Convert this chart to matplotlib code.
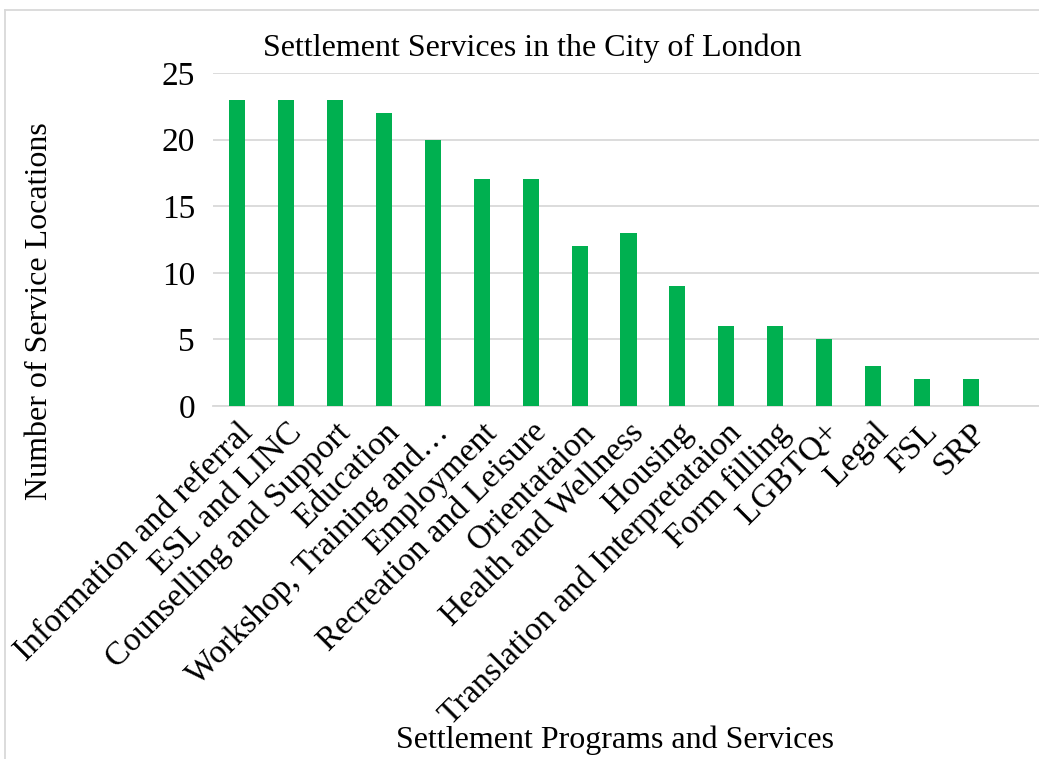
import matplotlib
matplotlib.use("Agg")
import matplotlib.pyplot as plt
from matplotlib.lines import Line2D

plt.rcParams['font.family'] = ['Liberation Serif', 'DejaVu Serif']

# datos
servicios = ["Information and referral", "ESL and LINC", "Counselling and Support",
             "Education", "Workshop, Training and\u2026", "Employment",
             "Recreation and Leisure", "Orientataion", "Health and Wellness",
             "Housing", "Translation and Interpretataion", "Form filling",
             "LGBTQ+", "Legal", "FSL", "SRP"]
ubicaciones = [23, 23, 23, 22, 20, 17, 17, 12, 13, 9, 6, 6, 5, 3, 2, 2]
marcas_y = [0, 5, 10, 15, 20, 25]

fig = plt.figure(figsize=(10.39, 7.59), dpi=100)
ax = fig.add_axes([0.205, 0.465, 0.795, 0.439])

x = list(range(len(servicios)))
ax.bar(x, ubicaciones, width=0.33, color="#00B050", zorder=3)

ax.set_ylim(0, 25)
ax.set_xlim(-0.5, 16.4)
ax.set_yticks(marcas_y)
ax.set_yticklabels([str(v) for v in marcas_y], fontsize=24)
ax.set_xticks(x)
ax.set_xticklabels(servicios, fontsize=24, rotation=45, ha='right',
                   va='top', rotation_mode='anchor')
ax.tick_params(axis='both', length=0)
ax.tick_params(axis='y', pad=13)
ax.tick_params(axis='x', pad=8)
ax.yaxis.grid(True, color="#D9D9D9", linewidth=1.3, zorder=0)
for lado in ['top', 'right', 'left']:
    ax.spines[lado].set_visible(False)
ax.spines['bottom'].set_color("#D9D9D9")
ax.spines['bottom'].set_linewidth(1.3)

fig.text(0.512, 0.937, "Settlement Services in the City of London",
         fontsize=23, ha='center', va='center')
fig.text(0.592, 0.025, "Settlement Programs and Services",
         fontsize=23, ha='center', va='center')
fig.text(0.038, 0.59, "Number of Service Locations",
         fontsize=23, ha='center', va='center', rotation=90)

# borde del grafico
fig.add_artist(Line2D([0.005, 0.005], [0.0, 0.987], color="#D9D9D9",
                      linewidth=1.3, transform=fig.transFigure))
fig.add_artist(Line2D([0.005, 1.0], [0.987, 0.987], color="#D9D9D9",
                      linewidth=1.3, transform=fig.transFigure))

fig.savefig("out.png", dpi=100)
